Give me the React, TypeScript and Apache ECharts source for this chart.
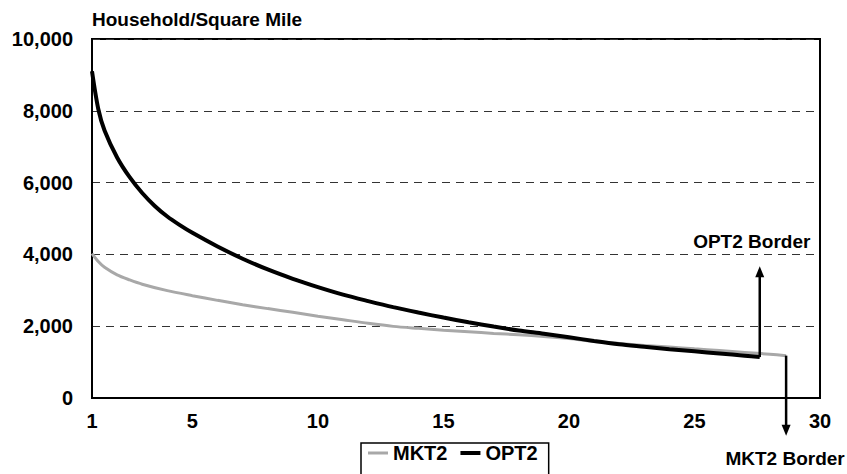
import React, { useEffect, useRef } from 'react';
import * as echarts from 'echarts';

// ---- data ----
const yAxisTitle = 'Household/Square Mile';
const seriesNames = ['MKT2', 'OPT2'];
const xTickLabels = [1, 5, 10, 15, 20, 25, 30];
const yMin = 0;
const yMax = 10000;
const yStep = 2000;
const xMin = 1;
const xMax = 30;

const mkt2Miles = [1, 1.25, 1.5, 2, 2.5, 3, 4, 5, 6, 7, 8, 9, 10, 11, 12, 13, 14, 15, 16, 17, 18, 19, 20, 21, 22, 23, 24, 25, 26, 27, 28, 28.65];
const mkt2Density = [4020, 3800, 3640, 3430, 3290, 3170, 2990, 2850, 2720, 2600, 2490, 2390, 2280, 2180, 2080, 1995, 1940, 1890, 1845, 1800, 1760, 1715, 1660, 1575, 1520, 1465, 1420, 1370, 1320, 1270, 1220, 1180];

const opt2Miles = [1, 1.25, 1.5, 2, 2.5, 3, 3.5, 4, 4.5, 5, 6, 7, 8, 9, 10, 11, 12, 13, 14, 15, 16, 17, 18, 19, 20, 21, 22, 23, 24, 25, 26, 27, 27.6];
const opt2Density = [9100, 8050, 7450, 6700, 6150, 5710, 5350, 5055, 4815, 4600, 4220, 3880, 3580, 3320, 3090, 2880, 2700, 2530, 2380, 2240, 2110, 1990, 1880, 1790, 1690, 1590, 1500, 1430, 1360, 1300, 1240, 1180, 1140];

const borderNames = ['OPT2 Border', 'MKT2 Border'];
const borderMiles = [27.6, 28.65];
const borderFrom = [1140, 1180];
const borderTo = [3670, -1050];

// ---- styling (not data) ----
const FONT = "'Liberation Sans', Arial, Helvetica, sans-serif";
const MKT2_COLOR = '#a8a8a8';
const OPT2_COLOR = '#000000';
const borderLabelDx = [-8, -1];
const borderLabelGap = [25, 23];

function pairs(xs: number[], ys: number[]) {
  return xs.map((x, i) => [x, ys[i]]);
}

export default function App() {
  const ref = useRef<HTMLDivElement>(null);

  useEffect(() => {
    if (!ref.current) return;
    const chart = echarts.init(ref.current, undefined, { renderer: 'svg' });

    const arrowData = borderMiles.map((x, i) => ({ name: borderNames[i], value: [x, borderFrom[i], borderTo[i]] }));

    chart.setOption({
      animation: false,
      backgroundColor: '#ffffff',
      textStyle: { fontFamily: FONT },
      title: {
        text: yAxisTitle,
        left: 92,
        top: 10,
        padding: 0,
        textStyle: { fontFamily: FONT, fontSize: 19, fontWeight: 'bold', color: '#000' },
      },
      legend: {
        data: [
          { name: seriesNames[0], icon: 'path://M0,0H20V3H0Z', itemStyle: { color: MKT2_COLOR } },
          { name: seriesNames[1], icon: 'path://M0,0H20V4H0Z', itemStyle: { color: OPT2_COLOR } },
        ],
        left: 361,
        top: 443,
        orient: 'horizontal',
        borderColor: '#000',
        borderWidth: 1.5,
        padding: [0, 11, 24, 7],
        itemWidth: 20,
        itemHeight: 14,
        itemGap: 13,
        symbolKeepAspect: true,
        textStyle: { fontFamily: FONT, fontSize: 20, fontWeight: 'bold', color: '#000' },
      },
      grid: {
        left: 92,
        right: 27,
        top: 39,
        bottom: 76,
        show: true,
        borderColor: '#000',
        borderWidth: 2,
        backgroundColor: 'transparent',
      },
      xAxis: {
        type: 'value',
        min: xMin,
        max: xMax,
        interval: 1,
        axisLine: { show: true, lineStyle: { color: '#000', width: 2 } },
        axisTick: { show: false },
        splitLine: { show: false },
        axisLabel: {
          margin: 13,
          fontFamily: FONT,
          fontSize: 20,
          fontWeight: 'bold',
          color: '#000',
          showMinLabel: true,
          showMaxLabel: true,
          formatter: (v: number) => (xTickLabels.includes(v) ? String(v) : ''),
        },
      },
      yAxis: {
        type: 'value',
        min: yMin,
        max: yMax,
        interval: yStep,
        axisLine: { show: true, lineStyle: { color: '#000', width: 2 } },
        axisTick: { show: false },
        splitLine: { show: true, lineStyle: { color: '#333', width: 1, type: [8, 6] } },
        axisLabel: {
          margin: 19,
          fontFamily: FONT,
          fontSize: 20,
          fontWeight: 'bold',
          color: '#000',
          formatter: (v: number) => v.toLocaleString('en-US'),
        },
      },
      series: [
        {
          name: seriesNames[0],
          type: 'line',
          data: pairs(mkt2Miles, mkt2Density),
          smooth: 0.3,
          symbol: 'none',
          showSymbol: false,
          clip: false,
          lineStyle: { color: MKT2_COLOR, width: 3 },
          itemStyle: { color: MKT2_COLOR },
          z: 2,
        },
        {
          name: seriesNames[1],
          type: 'line',
          data: pairs(opt2Miles, opt2Density),
          smooth: 0.3,
          symbol: 'none',
          showSymbol: false,
          clip: false,
          lineStyle: { color: OPT2_COLOR, width: 4 },
          itemStyle: { color: OPT2_COLOR },
          z: 3,
        },
        {
          name: 'borders',
          type: 'custom',
          clip: false,
          z: 4,
          data: arrowData,
          encode: { x: 0, y: [1, 2] },
          renderItem: (params: any, api: any) => {
            const i = params.dataIndex;
            const x = api.value(0);
            const p0 = api.coord([x, api.value(1)]);
            const p1 = api.coord([x, api.value(2)]);
            const dir = p1[1] < p0[1] ? -1 : 1;
            const headLen = 11;
            const headHalf = 4.5;
            const lineEnd = p1[1] - dir * headLen + dir * 1;
            return {
              type: 'group',
              children: [
                {
                  type: 'line',
                  shape: { x1: p0[0], y1: p0[1], x2: p1[0], y2: lineEnd },
                  style: { stroke: '#000', lineWidth: 2.5 },
                },
                {
                  type: 'polygon',
                  shape: {
                    points: [
                      [p1[0], p1[1]],
                      [p1[0] - headHalf, p1[1] - dir * headLen],
                      [p1[0] + headHalf, p1[1] - dir * headLen],
                    ],
                  },
                  style: { fill: '#000' },
                },
                {
                  type: 'text',
                  x: p1[0] + borderLabelDx[i],
                  y: p1[1] + dir * borderLabelGap[i],
                  style: {
                    text: borderNames[i],
                    fontFamily: FONT,
                    fontSize: 19,
                    fontWeight: 'bold',
                    fill: '#000',
                    align: 'center',
                    verticalAlign: 'middle',
                  },
                },
              ],
            };
          },
        },
      ],
    });

    return () => {
      chart.dispose();
    };
  }, []);

  return (
    <div
      ref={ref}
      style={{ position: 'fixed', left: 0, top: 0, width: 847, height: 474, background: '#fff' }}
    />
  );
}
